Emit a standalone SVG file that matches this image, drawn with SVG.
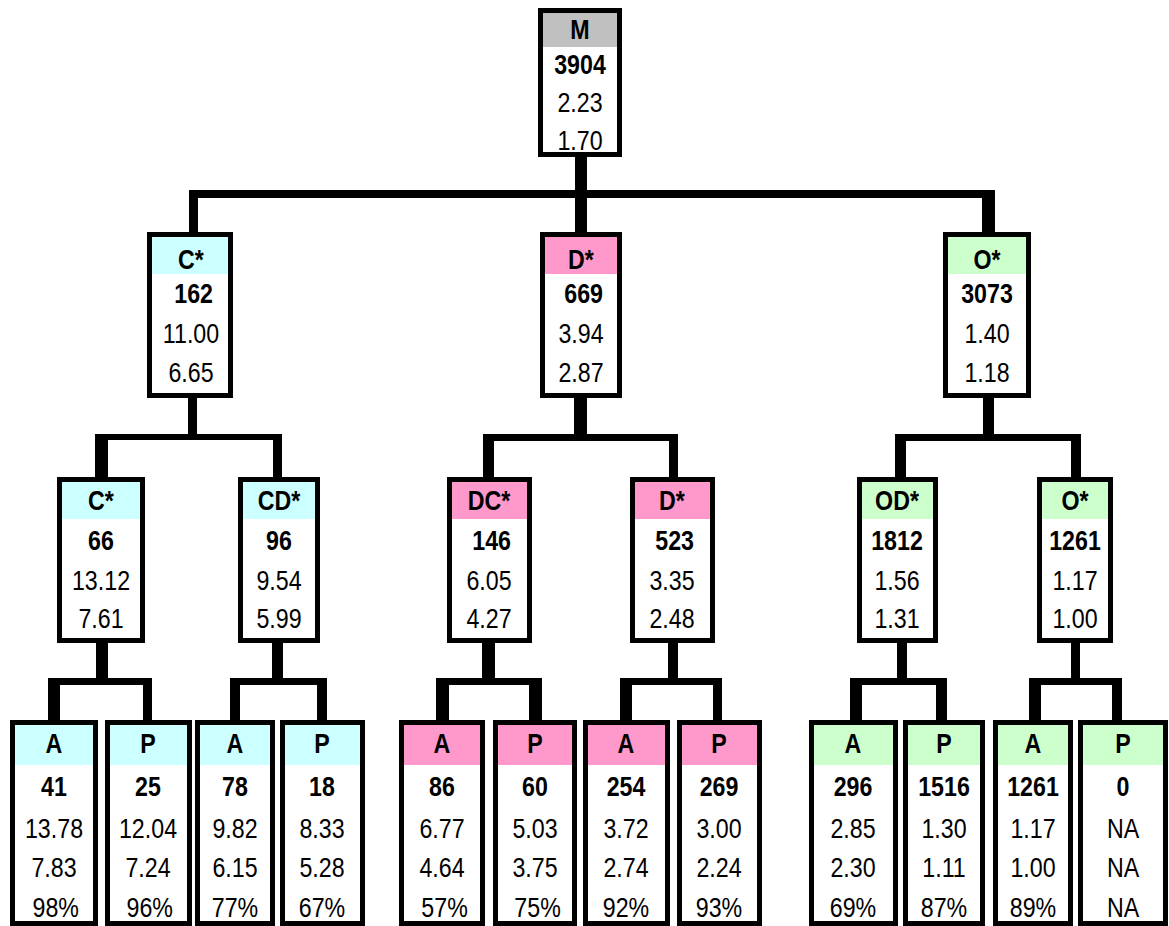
<svg xmlns="http://www.w3.org/2000/svg" width="1169" height="926" viewBox="0 0 1169 926">
<style>
.box{fill:#FFFFFF;stroke:#000000;stroke-width:5}
.hg{fill:#C0C0C0}.hc{fill:#CCFFFF}.hp{fill:#FF99CC}.hn{fill:#CCFFCC}
text{font-family:"Liberation Sans",Arial,sans-serif;font-size:27px;text-anchor:middle;fill:#000000}
.b{font-weight:bold}
#connectors rect{fill:#000000}
</style>
<rect width="1169" height="926" fill="#FFFFFF"/>
<g id="connectors">
<rect x="575" y="155" width="12" height="80"/>
<rect x="189" y="190" width="806" height="8"/>
<rect x="189" y="190" width="9" height="45"/>
<rect x="982" y="190" width="13" height="45"/>
<rect x="188" y="396" width="9" height="44"/>
<rect x="95" y="434" width="187" height="6"/>
<rect x="95" y="434" width="13" height="45"/>
<rect x="273" y="434" width="9" height="45"/>
<rect x="574" y="396" width="13" height="45"/>
<rect x="483" y="434" width="195" height="7"/>
<rect x="483" y="434" width="11" height="45"/>
<rect x="669" y="434" width="9" height="45"/>
<rect x="983" y="396" width="11" height="45"/>
<rect x="895" y="434" width="186" height="7"/>
<rect x="895" y="434" width="11" height="45"/>
<rect x="1071" y="434" width="10" height="45"/>
<rect x="96" y="641" width="12" height="44"/>
<rect x="48" y="678" width="104" height="7"/>
<rect x="48" y="678" width="12" height="44"/>
<rect x="143" y="678" width="9" height="44"/>
<rect x="272" y="641" width="11" height="44"/>
<rect x="230" y="678" width="97" height="7"/>
<rect x="230" y="678" width="10" height="44"/>
<rect x="317" y="678" width="10" height="44"/>
<rect x="482" y="641" width="13" height="44"/>
<rect x="436" y="678" width="106" height="7"/>
<rect x="436" y="678" width="13" height="44"/>
<rect x="529" y="678" width="13" height="44"/>
<rect x="668" y="641" width="10" height="44"/>
<rect x="620" y="678" width="102" height="7"/>
<rect x="620" y="678" width="12" height="44"/>
<rect x="713" y="678" width="9" height="44"/>
<rect x="897" y="641" width="10" height="44"/>
<rect x="850" y="678" width="97" height="7"/>
<rect x="850" y="678" width="12" height="44"/>
<rect x="936" y="678" width="11" height="44"/>
<rect x="1071" y="641" width="9" height="44"/>
<rect x="1029" y="678" width="93" height="7"/>
<rect x="1029" y="678" width="12" height="44"/>
<rect x="1112" y="678" width="10" height="44"/>
</g>

<g id="node-M">
<rect class="box" x="540.5" y="10.5" width="79" height="144"/>
<rect class="hg" x="543" y="13" width="74" height="34"/>
<g transform="translate(580 0) scale(0.86 1)"><text class="b" y="39">M</text><text class="b" y="74">3904</text><text y="112">2.23</text><text y="150">1.70</text></g>
</g>

<g id="node-C1">
<rect class="box" x="149.5" y="234.5" width="81" height="161"/>
<rect class="hc" x="152" y="237" width="76" height="37"/>
<g transform="translate(191 0) scale(0.86 1)"><text class="b" y="269">C*</text><text class="b" x="3" y="303">162</text><text y="343">11.00</text><text y="382">6.65</text></g>
</g>
<g id="node-D1">
<rect class="box" x="542.5" y="234.5" width="77" height="161"/>
<rect class="hp" x="545" y="237" width="72" height="37"/>
<g transform="translate(581 0) scale(0.86 1)"><text class="b" y="269">D*</text><text class="b" x="3" y="303">669</text><text y="343">3.94</text><text y="382">2.87</text></g>
</g>
<g id="node-O1">
<rect class="box" x="945.5" y="234.5" width="83" height="161"/>
<rect class="hn" x="948" y="237" width="78" height="37"/>
<g transform="translate(987 0) scale(0.86 1)"><text class="b" y="269">O*</text><text class="b" y="303">3073</text><text y="343">1.40</text><text y="382">1.18</text></g>
</g>

<g id="node-C2">
<rect class="box" x="59.5" y="479.5" width="83" height="161"/>
<rect class="hc" x="62" y="482" width="78" height="37"/>
<g transform="translate(101 0) scale(0.86 1)"><text class="b" y="510">C*</text><text class="b" y="550">66</text><text y="590">13.12</text><text y="628">7.61</text></g>
</g>
<g id="node-CD2">
<rect class="box" x="240.5" y="479.5" width="77" height="161"/>
<rect class="hc" x="243" y="482" width="72" height="37"/>
<g transform="translate(279 0) scale(0.86 1)"><text class="b" y="510">CD*</text><text class="b" y="550">96</text><text y="590">9.54</text><text y="628">5.99</text></g>
</g>
<g id="node-DC2">
<rect class="box" x="449.5" y="479.5" width="80" height="161"/>
<rect class="hp" x="452" y="482" width="75" height="37"/>
<g transform="translate(489 0) scale(0.86 1)"><text class="b" y="510">DC*</text><text class="b" x="3" y="550">146</text><text y="590">6.05</text><text y="628">4.27</text></g>
</g>
<g id="node-D2">
<rect class="box" x="632.5" y="479.5" width="80" height="161"/>
<rect class="hp" x="635" y="482" width="75" height="37"/>
<g transform="translate(672 0) scale(0.86 1)"><text class="b" y="510">D*</text><text class="b" x="3" y="550">523</text><text y="590">3.35</text><text y="628">2.48</text></g>
</g>
<g id="node-OD2">
<rect class="box" x="859.5" y="479.5" width="76" height="161"/>
<rect class="hn" x="862" y="482" width="71" height="37"/>
<g transform="translate(897 0) scale(0.86 1)"><text class="b" y="510">OD*</text><text class="b" y="550">1812</text><text y="590">1.56</text><text y="628">1.31</text></g>
</g>
<g id="node-O2">
<rect class="box" x="1039.5" y="479.5" width="71" height="161"/>
<rect class="hn" x="1042" y="482" width="66" height="37"/>
<g transform="translate(1075 0) scale(0.86 1)"><text class="b" y="510">O*</text><text class="b" y="550">1261</text><text y="590">1.17</text><text y="628">1.00</text></g>
</g>

<g id="leaf-A41">
<rect class="box" x="12.5" y="722.5" width="83" height="201"/>
<rect class="hc" x="15" y="725" width="78" height="40"/>
<g transform="translate(54 0) scale(0.86 1)"><text class="b" y="753">A</text><text class="b" y="796">41</text><text y="838">13.78</text><text y="877">7.83</text><text x="2" y="917">98%</text></g>
</g>
<g id="leaf-P25">
<rect class="box" x="107.5" y="722.5" width="82" height="201"/>
<rect class="hc" x="110" y="725" width="77" height="40"/>
<g transform="translate(148 0) scale(0.86 1)"><text class="b" y="753">P</text><text class="b" y="796">25</text><text y="838">12.04</text><text y="877">7.24</text><text x="2" y="917">96%</text></g>
</g>
<g id="leaf-A78">
<rect class="box" x="197.5" y="722.5" width="75" height="201"/>
<rect class="hc" x="200" y="725" width="70" height="40"/>
<g transform="translate(235 0) scale(0.86 1)"><text class="b" y="753">A</text><text class="b" y="796">78</text><text y="838">9.82</text><text y="877">6.15</text><text y="917">77%</text></g>
</g>
<g id="leaf-P18">
<rect class="box" x="282.5" y="722.5" width="80" height="201"/>
<rect class="hc" x="285" y="725" width="75" height="40"/>
<g transform="translate(322 0) scale(0.86 1)"><text class="b" y="753">P</text><text class="b" y="796">18</text><text y="838">8.33</text><text y="877">5.28</text><text y="917">67%</text></g>
</g>
<g id="leaf-A86">
<rect class="box" x="401.5" y="722.5" width="81" height="201"/>
<rect class="hp" x="404" y="725" width="76" height="40"/>
<g transform="translate(442 0) scale(0.86 1)"><text class="b" y="753">A</text><text class="b" y="796">86</text><text y="838">6.77</text><text y="877">4.64</text><text x="3" y="917">57%</text></g>
</g>
<g id="leaf-P60">
<rect class="box" x="495.5" y="722.5" width="79" height="201"/>
<rect class="hp" x="498" y="725" width="74" height="40"/>
<g transform="translate(535 0) scale(0.86 1)"><text class="b" y="753">P</text><text class="b" y="796">60</text><text y="838">5.03</text><text y="877">3.75</text><text x="3" y="917">75%</text></g>
</g>
<g id="leaf-A254">
<rect class="box" x="585.5" y="722.5" width="82" height="201"/>
<rect class="hp" x="588" y="725" width="77" height="40"/>
<g transform="translate(626 0) scale(0.86 1)"><text class="b" y="753">A</text><text class="b" y="796">254</text><text y="838">3.72</text><text y="877">2.74</text><text y="917">92%</text></g>
</g>
<g id="leaf-P269">
<rect class="box" x="679.5" y="722.5" width="80" height="201"/>
<rect class="hp" x="682" y="725" width="75" height="40"/>
<g transform="translate(719 0) scale(0.86 1)"><text class="b" y="753">P</text><text class="b" y="796">269</text><text y="838">3.00</text><text y="877">2.24</text><text y="917">93%</text></g>
</g>
<g id="leaf-A296">
<rect class="box" x="811.5" y="722.5" width="84" height="201"/>
<rect class="hn" x="814" y="725" width="79" height="40"/>
<g transform="translate(853 0) scale(0.86 1)"><text class="b" y="753">A</text><text class="b" y="796">296</text><text y="838">2.85</text><text y="877">2.30</text><text y="917">69%</text></g>
</g>
<g id="leaf-P1516">
<rect class="box" x="905.5" y="722.5" width="77" height="201"/>
<rect class="hn" x="908" y="725" width="72" height="40"/>
<g transform="translate(944 0) scale(0.86 1)"><text class="b" y="753">P</text><text class="b" y="796">1516</text><text y="838">1.30</text><text y="877">1.11</text><text y="917">87%</text></g>
</g>
<g id="leaf-A1261">
<rect class="box" x="995.5" y="722.5" width="75" height="201"/>
<rect class="hn" x="998" y="725" width="70" height="40"/>
<g transform="translate(1033 0) scale(0.86 1)"><text class="b" y="753">A</text><text class="b" y="796">1261</text><text y="838">1.17</text><text y="877">1.00</text><text y="917">89%</text></g>
</g>
<g id="leaf-P0">
<rect class="box" x="1080.5" y="722.5" width="85" height="201"/>
<rect class="hn" x="1083" y="725" width="80" height="40"/>
<g transform="translate(1123 0) scale(0.86 1)"><text class="b" y="753">P</text><text class="b" y="796">0</text><text y="838">NA</text><text y="877">NA</text><text y="917">NA</text></g>
</g>
</svg>
